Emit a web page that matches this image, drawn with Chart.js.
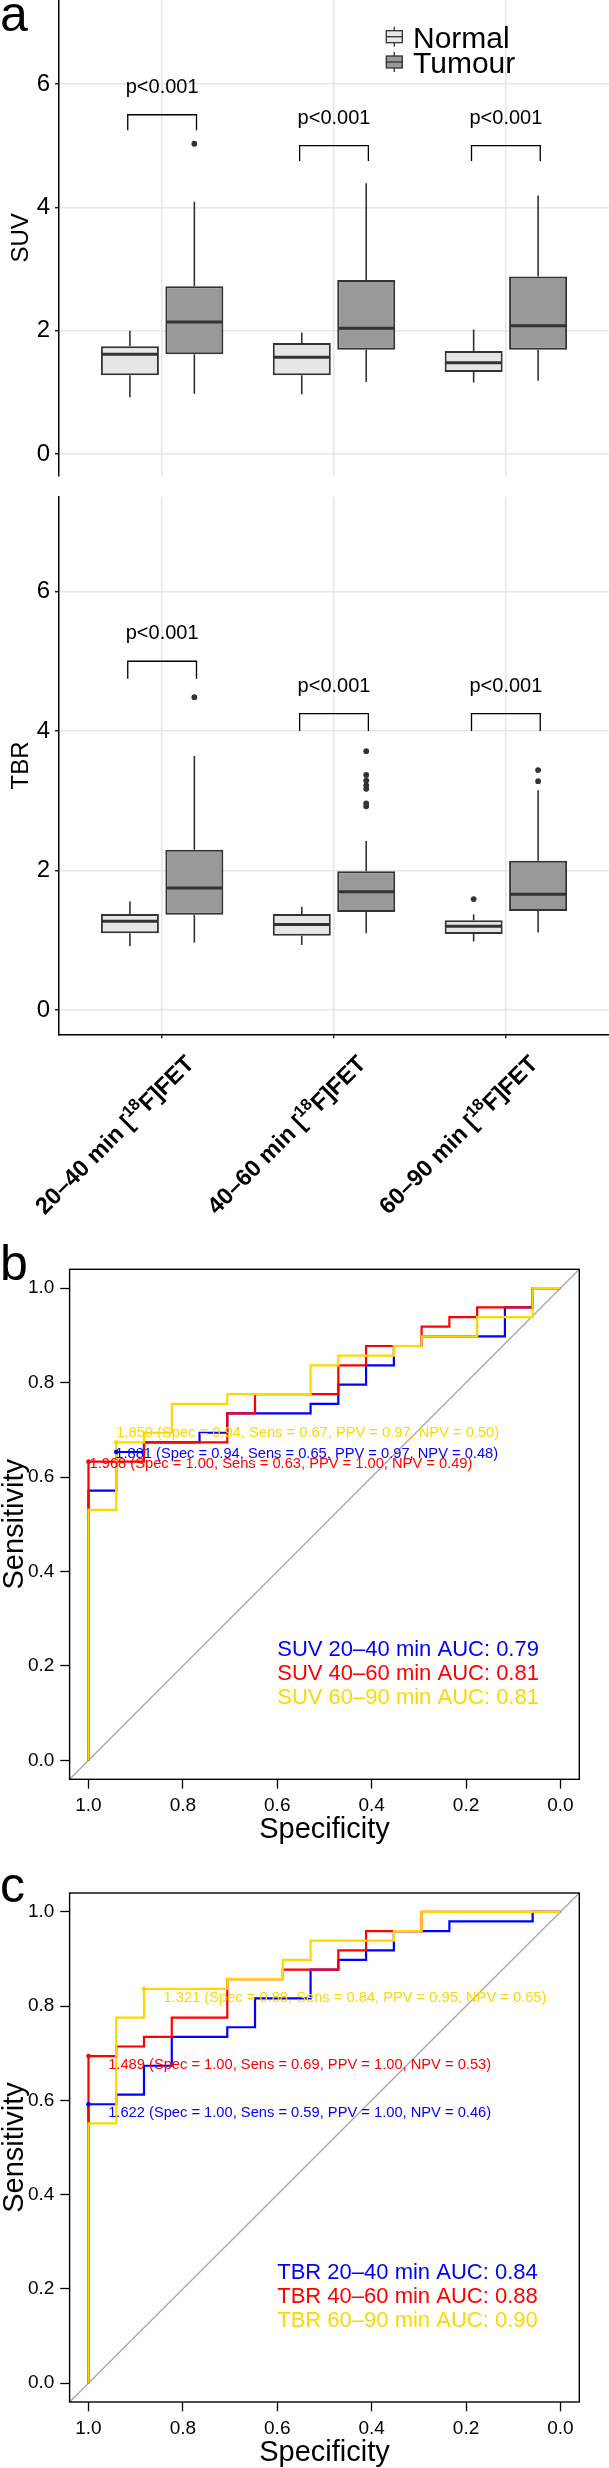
<!DOCTYPE html>
<html>
<head>
<meta charset="utf-8">
<script src="https://cdn.jsdelivr.net/npm/chart.js@4.4.1/dist/chart.umd.min.js"></script>
<style>
  html, body { margin:0; padding:0; background:#ffffff; }
  body { width:609px; height:2468px; position:relative; overflow:hidden; }
  canvas { position:absolute; left:0; }
</style>
</head>
<body>
<canvas id="suv" width="609" height="480" style="top:0px;width:609px;height:480px"></canvas>
<canvas id="tbr" width="609" height="750" style="top:480px;width:609px;height:750px"></canvas>
<canvas id="rocSuv" width="609" height="625" style="top:1230px;width:609px;height:625px"></canvas>
<canvas id="rocTbr" width="609" height="613" style="top:1855px;width:609px;height:613px"></canvas>
<script>
// ===================== DATA =====================
const CATEGORIES = ['20–40 min', '40–60 min', '60–90 min'];
const BOX_Y_TICKS = [0, 2, 4, 6];
const ROC_TICKS = [0, 0.2, 0.4, 0.6, 0.8, 1.0];

// five-number summaries: [lower whisker, Q1, median, Q3, upper whisker]
const SUV_NORMAL = [[0.92, 1.28, 1.62, 1.75, 2.00], [0.97, 1.28, 1.57, 1.80, 1.97], [1.16, 1.33, 1.48, 1.67, 2.02]];
const SUV_TUMOUR = [[0.98, 1.62, 2.14, 2.72, 4.09], [1.17, 1.69, 2.04, 2.82, 4.39], [1.19, 1.69, 2.08, 2.88, 4.19]];
const SUV_NORMAL_OUTLIERS = [[], [], []];
const SUV_TUMOUR_OUTLIERS = [[5.03], [], []];

const TBR_NORMAL = [[0.915, 1.10, 1.273, 1.375, 1.554], [0.93, 1.065, 1.223, 1.377, 1.478], [0.98, 1.09, 1.20, 1.285, 1.37]];
const TBR_TUMOUR = [[0.966, 1.365, 1.749, 2.296, 3.64], [1.10, 1.405, 1.695, 1.99, 2.424], [1.11, 1.42, 1.657, 2.14, 3.15]];
const TBR_NORMAL_OUTLIERS = [[], [], [1.59]];
const TBR_TUMOUR_OUTLIERS = [[4.485], [3.71, 3.37, 3.29, 3.22, 3.17, 2.96, 2.92], [3.44, 3.28]];

const P_LABELS = ['p<0.001', 'p<0.001', 'p<0.001'];
const SUV_BRACKETS = [5.5, 5.0, 5.0];
const TBR_BRACKETS = [5.0, 4.25, 4.25];

// ROC curves (specificity, sensitivity)
const SUV_20_40_SPEC = [1, 1, 0.9412, 0.9412, 0.8824, 0.8824, 0.7647, 0.7647, 0.7059, 0.7059, 0.5294, 0.5294, 0.4706, 0.4706, 0.4118, 0.4118, 0.3529, 0.3529, 0.2941, 0.2941, 0.1176, 0.1176, 0.0588, 0.0588, 0];
const SUV_20_40_SENS = [0, 0.5714, 0.5714, 0.6531, 0.6531, 0.6735, 0.6735, 0.6939, 0.6939, 0.7347, 0.7347, 0.7551, 0.7551, 0.7959, 0.7959, 0.8367, 0.8367, 0.8776, 0.8776, 0.8980, 0.8980, 0.9592, 0.9592, 1, 1];
const SUV_40_60_SPEC = [1, 1, 0.8824, 0.8824, 0.7059, 0.7059, 0.6471, 0.6471, 0.4706, 0.4706, 0.4118, 0.4118, 0.2941, 0.2941, 0.2353, 0.2353, 0.1765, 0.1765, 0.0588, 0.0588, 0];
const SUV_40_60_SENS = [0, 0.6327, 0.6327, 0.6735, 0.6735, 0.7347, 0.7347, 0.7755, 0.7755, 0.8367, 0.8367, 0.8776, 0.8776, 0.9184, 0.9184, 0.9388, 0.9388, 0.9592, 0.9592, 1, 1];
const SUV_60_90_SPEC = [1, 1, 0.9412, 0.9412, 0.8824, 0.8824, 0.8235, 0.8235, 0.7059, 0.7059, 0.5294, 0.5294, 0.4706, 0.4706, 0.3529, 0.3529, 0.2941, 0.2941, 0.1765, 0.1765, 0.0588, 0.0588, 0];
const SUV_60_90_SENS = [0, 0.5306, 0.5306, 0.6735, 0.6735, 0.6939, 0.6939, 0.7551, 0.7551, 0.7755, 0.7755, 0.8367, 0.8367, 0.8571, 0.8571, 0.8776, 0.8776, 0.8980, 0.8980, 0.9388, 0.9388, 1, 1];

const TBR_20_40_SPEC = [1, 1, 0.9412, 0.9412, 0.8824, 0.8824, 0.8235, 0.8235, 0.7059, 0.7059, 0.6471, 0.6471, 0.5294, 0.5294, 0.4706, 0.4706, 0.4118, 0.4118, 0.3529, 0.3529, 0.2353, 0.2353, 0.0588, 0.0588, 0];
const TBR_20_40_SENS = [0, 0.5918, 0.5918, 0.6122, 0.6122, 0.6735, 0.6735, 0.7347, 0.7347, 0.7551, 0.7551, 0.8163, 0.8163, 0.8776, 0.8776, 0.8980, 0.8980, 0.9184, 0.9184, 0.9592, 0.9592, 0.9796, 0.9796, 1, 1];
const TBR_40_60_SPEC = [1, 1, 0.9412, 0.9412, 0.8824, 0.8824, 0.8235, 0.8235, 0.7059, 0.7059, 0.5882, 0.5882, 0.4706, 0.4706, 0.4118, 0.4118, 0.2941, 0.2941, 0];
const TBR_40_60_SENS = [0, 0.6939, 0.6939, 0.7143, 0.7143, 0.7347, 0.7347, 0.7755, 0.7755, 0.8571, 0.8571, 0.8776, 0.8776, 0.9184, 0.9184, 0.9592, 0.9592, 1, 1];
const TBR_60_90_SPEC = [1, 1, 0.9412, 0.9412, 0.8824, 0.8824, 0.7059, 0.7059, 0.5882, 0.5882, 0.5294, 0.5294, 0.3529, 0.3529, 0.2941, 0.2941, 0];
const TBR_60_90_SENS = [0, 0.5510, 0.5510, 0.7755, 0.7755, 0.8367, 0.8367, 0.8571, 0.8571, 0.8980, 0.8980, 0.9388, 0.9388, 0.9592, 0.9592, 1, 1];

// best thresholds
const SUV_THR = ['1.881', '1.968', '1.850'];
const SUV_THR_SPEC = ['0.94', '1.00', '0.94'];
const SUV_THR_SENS = ['0.65', '0.63', '0.67'];
const SUV_THR_PPV = ['0.97', '1.00', '0.97'];
const SUV_THR_NPV = ['0.48', '0.49', '0.50'];
const SUV_THR_X = [0.9412, 1, 0.9412];
const SUV_THR_Y = [0.6531, 0.6327, 0.6735];
const SUV_AUC = [0.79, 0.81, 0.81];

const TBR_THR = ['1.622', '1.489', '1.321'];
const TBR_THR_SPEC = ['1.00', '1.00', '0.88'];
const TBR_THR_SENS = ['0.59', '0.69', '0.84'];
const TBR_THR_PPV = ['1.00', '1.00', '0.95'];
const TBR_THR_NPV = ['0.46', '0.53', '0.65'];
const TBR_THR_X = [1, 1, 0.8824];
const TBR_THR_Y = [0.5918, 0.6939, 0.8367];
const TBR_AUC = [0.84, 0.88, 0.90];

// ===================== STYLE =====================
const FONT = '"Liberation Sans", Arial, Helvetica, sans-serif';
Chart.defaults.font.family = FONT;
Chart.defaults.color = '#000';
const GRID = '#E6E6E6';
const OUTLINE = '#333333';
const NORMAL_FILL = '#E6E6E6';
const TUMOUR_FILL = '#999999';
const DODGE = 0.1875;
const BRACKET_HALF = 0.2;
const BRACKET_TIP = 0.25;
const ROC_COLORS = ['#0000FF', '#FF0000', '#FFD700'];

function fixScale(size, dim) {
  return function (s) {
    s[dim] = size;
    s.paddingLeft = 0; s.paddingRight = 0; s.paddingTop = 0; s.paddingBottom = 0;
  };
}
function setTicks(values) {
  return function (s) { s.ticks = values.map(v => ({ value: v })); };
}

function drawFET(ctx, cat, cx, cy, size) {
  const main = 'bold ' + size + 'px ' + FONT;
  const sup = 'bold ' + (size * 0.7).toFixed(1) + 'px ' + FONT;
  const parts = [[cat + ' [', main, 0], ['18', sup, -size * 0.42], ['F]FET', main, 0]];
  let L = 0;
  parts.forEach(p => { ctx.font = p[1]; p.push(ctx.measureText(p[0]).width); L += p[3]; });
  ctx.save();
  ctx.translate(cx, cy);
  ctx.rotate(-Math.PI / 4);
  ctx.fillStyle = '#000';
  ctx.textAlign = 'left';
  ctx.textBaseline = 'alphabetic';
  let xx = -L / 2;
  const base = size * 0.36;
  parts.forEach(p => { ctx.font = p[1]; ctx.fillText(p[0], xx, base + p[2]); xx += p[3]; });
  ctx.restore();
}

function makeBoxChart(id, cfg) {
  const series = [cfg.normal, cfg.tumour];
  const outliers = [cfg.normalOut, cfg.tumourOut];
  const offsets = [-DODGE, DODGE];
  const fills = [NORMAL_FILL, TUMOUR_FILL];
  const names = ['Normal', 'Tumour'];
  const datasets = series.map((s, k) => ({
    label: names[k],
    data: s.map((v, i) => ({ x: i + 1 + offsets[k], y: [v[1], v[3]] })),
    backgroundColor: fills[k],
    borderColor: OUTLINE,
    borderWidth: 2,
    borderSkipped: false,
    grouped: false,
    barPercentage: 0.9,
    categoryPercentage: 1,
    inflateAmount: 0
  }));

  const plugin = {
    id: 'boxextra_' + id,
    afterDatasetsDraw(chart) {
      const ctx = chart.ctx, x = chart.scales.x, y = chart.scales.y;
      ctx.save();
      series.forEach((s, k) => {
        const meta = chart.getDatasetMeta(k);
        meta.data.forEach((el, i) => {
          const v = s[i], cx = el.x, w = el.width;
          ctx.strokeStyle = OUTLINE;
          ctx.lineWidth = 1.6;
          ctx.beginPath();
          ctx.moveTo(cx, y.getPixelForValue(v[3])); ctx.lineTo(cx, y.getPixelForValue(v[4]));
          ctx.moveTo(cx, y.getPixelForValue(v[1])); ctx.lineTo(cx, y.getPixelForValue(v[0]));
          ctx.stroke();
          ctx.lineWidth = 3;
          const my = y.getPixelForValue(v[2]);
          ctx.beginPath(); ctx.moveTo(cx - w / 2 + 1, my); ctx.lineTo(cx + w / 2 - 1, my); ctx.stroke();
          ctx.fillStyle = OUTLINE;
          outliers[k][i].forEach(o => {
            ctx.beginPath(); ctx.arc(cx, y.getPixelForValue(o), 2.9, 0, Math.PI * 2); ctx.fill();
          });
        });
      });
      // significance brackets
      ctx.strokeStyle = '#000';
      ctx.lineWidth = 1.3;
      ctx.fillStyle = '#000';
      ctx.font = '20px ' + FONT;
      ctx.textAlign = 'center';
      ctx.textBaseline = 'alphabetic';
      cfg.brackets.forEach((b, i) => {
        const xl = x.getPixelForValue(i + 1 - BRACKET_HALF), xr = x.getPixelForValue(i + 1 + BRACKET_HALF);
        const yb = y.getPixelForValue(b), yt = y.getPixelForValue(b - BRACKET_TIP);
        ctx.beginPath(); ctx.moveTo(xl, yt); ctx.lineTo(xl, yb); ctx.lineTo(xr, yb); ctx.lineTo(xr, yt); ctx.stroke();
        ctx.fillText(P_LABELS[i], x.getPixelForValue(i + 1), yb - 22);
      });
      ctx.restore();
    },
    afterDraw(chart) {
      const ctx = chart.ctx, a = chart.chartArea, x = chart.scales.x;
      ctx.save();
      ctx.fillStyle = '#000';
      // y title
      ctx.save();
      ctx.translate(28, (a.top + a.bottom) / 2);
      ctx.rotate(-Math.PI / 2);
      ctx.font = '24px ' + FONT;
      ctx.textAlign = 'center';
      ctx.textBaseline = 'alphabetic';
      ctx.fillText(cfg.title, 0, 0);
      ctx.restore();
      if (cfg.letter) {
        ctx.font = '50px ' + FONT;
        ctx.textAlign = 'left';
        ctx.textBaseline = 'alphabetic';
        ctx.fillText(cfg.letter, 0, 31);
      }
      if (cfg.legend) {
        const keys = [[36.7, NORMAL_FILL, 'Normal', 48.3], [62, TUMOUR_FILL, 'Tumour', 73.3]];
        keys.forEach(kk => {
          const cy = kk[0], cxk = 394.3;
          ctx.strokeStyle = OUTLINE; ctx.lineWidth = 1.3;
          ctx.beginPath(); ctx.moveTo(cxk, cy - 10); ctx.lineTo(cxk, cy + 10); ctx.stroke();
          ctx.fillStyle = kk[1];
          ctx.fillRect(cxk - 8, cy - 6, 16, 12);
          ctx.strokeRect(cxk - 8, cy - 6, 16, 12);
          ctx.beginPath(); ctx.moveTo(cxk - 8, cy); ctx.lineTo(cxk + 8, cy); ctx.stroke();
          ctx.fillStyle = '#000';
          ctx.font = '30px ' + FONT;
          ctx.textAlign = 'left';
          ctx.fillText(kk[2], 413, kk[3]);
        });
      }
      if (cfg.xLabels) {
        CATEGORIES.forEach((c, i) => {
          drawFET(ctx, c, x.getPixelForValue(i + 1) - 48, a.bottom + 100, 23.5);
        });
      }
      ctx.restore();
    }
  };

  return new Chart(document.getElementById(id), {
    type: 'bar',
    data: { datasets },
    options: {
      responsive: false,
      animation: false,
      events: [],
      layout: { padding: { top: cfg.padTop, right: 0, bottom: 0, left: 0 } },
      plugins: { legend: { display: false }, tooltip: { enabled: false } },
      scales: {
        x: {
          type: 'linear', min: 0.4, max: 3.6, offset: false,
          afterBuildTicks: setTicks([1, 2, 3]),
          afterFit: fixScale(cfg.xHeight, 'height'),
          ticks: { display: false },
          grid: { color: GRID, lineWidth: 1.5, offset: false, drawTicks: cfg.xAxis, tickLength: 4, tickColor: '#000', tickWidth: 1.3 },
          border: { display: cfg.xAxis, color: '#000', width: 1.5 }
        },
        y: {
          type: 'linear', min: -0.35, max: 7.36,
          afterBuildTicks: setTicks(BOX_Y_TICKS),
          afterFit: fixScale(59, 'width'),
          ticks: { font: { size: 24 }, color: '#000', padding: 5, callback: v => String(v) },
          grid: { color: GRID, lineWidth: 1.5, tickLength: 4, tickColor: '#000', tickWidth: 1.3 },
          border: { display: true, color: '#000', width: 1.5 }
        }
      }
    },
    plugins: [plugin]
  });
}

function makeRocChart(id, cfg) {
  const datasets = [];
  cfg.curves.forEach((c, k) => {
    datasets.push({
      type: 'scatter', showLine: true,
      data: c[0].map((s, i) => ({ x: s, y: c[1][i] })),
      borderColor: ROC_COLORS[k], backgroundColor: ROC_COLORS[k],
      borderWidth: 2.2, pointRadius: 0, tension: 0, fill: false,
      order: 10 - k
    });
  });
  cfg.thrX.forEach((tx, k) => {
    datasets.push({
      type: 'scatter', showLine: false,
      data: [{ x: tx, y: cfg.thrY[k] }],
      pointRadius: 2.3, pointBorderWidth: 0,
      pointBackgroundColor: ROC_COLORS[k], backgroundColor: ROC_COLORS[k],
      order: 3 - k
    });
  });
  const plugin = {
    id: 'rocextra_' + id,
    beforeDatasetsDraw(chart) {
      const ctx = chart.ctx, x = chart.scales.x, y = chart.scales.y;
      ctx.save();
      ctx.strokeStyle = '#A6A6A6';
      ctx.lineWidth = 1.3;
      ctx.beginPath();
      ctx.moveTo(x.getPixelForValue(x.max), y.getPixelForValue(y.min));
      ctx.lineTo(x.getPixelForValue(x.min), y.getPixelForValue(y.max));
      ctx.stroke();
      ctx.restore();
    },
    afterDatasetsDraw(chart) {
      const ctx = chart.ctx, x = chart.scales.x, y = chart.scales.y;
      ctx.save();
      ctx.textAlign = 'left';
      ctx.textBaseline = 'middle';
      ctx.font = '14.7px ' + FONT;
      cfg.thrX.forEach((tx, k) => {
        const label = cfg.thr[k] + ' (Spec = ' + cfg.spec[k] + ', Sens = ' + cfg.sens[k] +
          ', PPV = ' + cfg.ppv[k] + ', NPV = ' + cfg.npv[k] + ')';
        ctx.fillStyle = ROC_COLORS[k];
        ctx.fillText(label, x.getPixelForValue(tx) + cfg.labelOffsets[k][0], y.getPixelForValue(cfg.thrY[k]) + cfg.labelOffsets[k][1]);
      });
      ctx.font = '22px ' + FONT;
      cfg.auc.forEach((v, k) => {
        ctx.fillStyle = ROC_COLORS[k];
        ctx.fillText(cfg.measure + ' ' + CATEGORIES[k] + ' AUC: ' + v.toFixed(2),
          x.getPixelForValue(0.6), y.getPixelForValue(0.233) + k * 23.7);
      });
      ctx.restore();
    },
    afterDraw(chart) {
      const ctx = chart.ctx, a = chart.chartArea;
      ctx.save();
      ctx.strokeStyle = '#000';
      ctx.lineWidth = 1.4;
      ctx.strokeRect(a.left, a.top, a.right - a.left, a.bottom - a.top);
      ctx.fillStyle = '#000';
      ctx.font = '29px ' + FONT;
      ctx.textAlign = 'center';
      ctx.textBaseline = 'middle';
      ctx.fillText('Specificity', (a.left + a.right) / 2, a.bottom + 50.5);
      ctx.save();
      ctx.translate(23, (a.top + a.bottom) / 2);
      ctx.rotate(-Math.PI / 2);
      ctx.textBaseline = 'alphabetic';
      ctx.fillText('Sensitivity', 0, 0);
      ctx.restore();
      ctx.font = '50px ' + FONT;
      ctx.textAlign = 'left';
      ctx.textBaseline = 'alphabetic';
      ctx.fillText(cfg.letter, 0, cfg.letterY);
      ctx.restore();
    }
  };
  return new Chart(document.getElementById(id), {
    type: 'scatter',
    data: { datasets },
    options: {
      responsive: false,
      animation: false,
      events: [],
      layout: { padding: { top: cfg.padTop, right: 29.7, bottom: 0, left: 0 } },
      plugins: { legend: { display: false }, tooltip: { enabled: false } },
      scales: {
        x: {
          type: 'linear', reverse: true, min: -0.04, max: 1.04,
          afterBuildTicks: setTicks(ROC_TICKS),
          afterFit: fixScale(cfg.xHeight, 'height'),
          ticks: { font: { size: 19 }, color: '#000', padding: 6, maxRotation: 0, autoSkip: false, callback: v => v.toFixed(1) },
          grid: { display: true, drawOnChartArea: false, drawTicks: true, tickLength: 9.3, tickColor: '#000', tickWidth: 1.3 },
          border: { display: false }
        },
        y: {
          type: 'linear', min: -0.04, max: 1.04,
          afterBuildTicks: setTicks(ROC_TICKS),
          afterFit: fixScale(69.6, 'width'),
          ticks: { font: { size: 19 }, color: '#000', padding: 6, autoSkip: false, callback: v => v.toFixed(1) },
          grid: { display: true, drawOnChartArea: false, drawTicks: true, tickLength: 9.3, tickColor: '#000', tickWidth: 1.3 },
          border: { display: false }
        }
      }
    },
    plugins: [plugin]
  });
}

makeBoxChart('suv', {
  normal: SUV_NORMAL, tumour: SUV_TUMOUR,
  normalOut: SUV_NORMAL_OUTLIERS, tumourOut: SUV_TUMOUR_OUTLIERS,
  brackets: SUV_BRACKETS, title: 'SUV', letter: 'a', legend: true,
  xAxis: false, xLabels: false, padTop: 0, xHeight: 4.3
});
makeBoxChart('tbr', {
  normal: TBR_NORMAL, tumour: TBR_TUMOUR,
  normalOut: TBR_NORMAL_OUTLIERS, tumourOut: TBR_TUMOUR_OUTLIERS,
  brackets: TBR_BRACKETS, title: 'TBR', letter: null, legend: false,
  xAxis: true, xLabels: true, padTop: 16.7, xHeight: 195.7
});
makeRocChart('rocSuv', {
  curves: [[SUV_20_40_SPEC, SUV_20_40_SENS], [SUV_40_60_SPEC, SUV_40_60_SENS], [SUV_60_90_SPEC, SUV_60_90_SENS]],
  thrX: SUV_THR_X, thrY: SUV_THR_Y, thr: SUV_THR, spec: SUV_THR_SPEC, sens: SUV_THR_SENS, ppv: SUV_THR_PPV, npv: SUV_THR_NPV,
  labelOffsets: [[-1, 1.6], [1, 2.3], [0, -9]],
  auc: SUV_AUC, measure: 'SUV', letter: 'b', letterY: 50, padTop: 39.3, xHeight: 75.7
});
makeRocChart('rocTbr', {
  curves: [[TBR_20_40_SPEC, TBR_20_40_SENS], [TBR_40_60_SPEC, TBR_40_60_SENS], [TBR_60_90_SPEC, TBR_60_90_SENS]],
  thrX: TBR_THR_X, thrY: TBR_THR_Y, thr: TBR_THR, spec: TBR_THR_SPEC, sens: TBR_THR_SENS, ppv: TBR_THR_PPV, npv: TBR_THR_NPV,
  labelOffsets: [[19.7, 9], [19.7, 8.9], [19.5, 8.7]],
  auc: TBR_AUC, measure: 'TBR', letter: 'c', letterY: 46.5, padTop: 38, xHeight: 66
});
</script>
</body>
</html>
